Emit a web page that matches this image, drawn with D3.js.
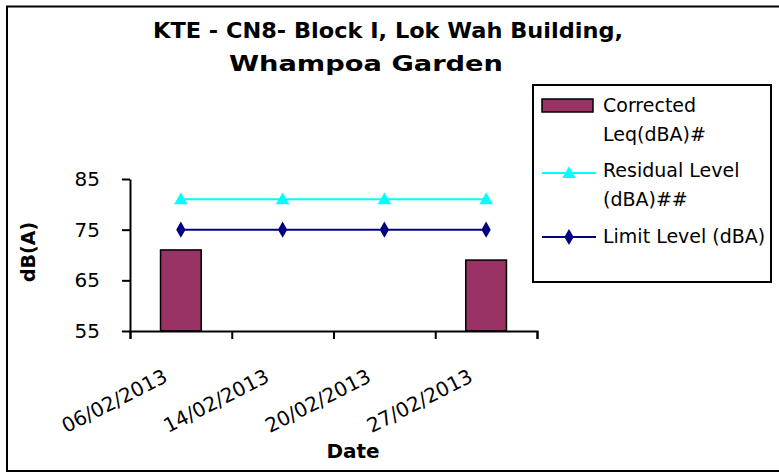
<!DOCTYPE html>
<meta charset="utf-8">
<style>
body { margin: 0; background: #fff; }
text { font-family: "DejaVu Sans", "Liberation Sans", Arial, sans-serif; fill: #000; }
</style>
<svg width="779" height="474"></svg>
<script src="https://d3js.org/d3.v7.min.js"></script>
<script>

// chart data
var dates = ["06/02/2013", "14/02/2013", "20/02/2013", "27/02/2013"];
var corrected = [71, null, null, 69];
var residual = [81, 81, 81, 81];
var limit = [75, 75, 75, 75];
var yTicks = [55, 65, 75, 85];
var titleLines = ["KTE - CN8- Block I, Lok Wah Building,", "Whampoa Garden"];
var legendItems = ["Corrected|Leq(dBA)#", "Residual Level|(dBA)##", "Limit Level (dBA)"];

var svg = d3.select("svg");

// outer frame (no right edge inside the window)
svg.append("rect")
    .attr("x", 7).attr("y", 6.5).attr("width", 790).attr("height", 464.5)
    .attr("fill", "none").attr("stroke", "#000").attr("stroke-width", 2);

var x = d3.scaleBand().domain(dates).range([130, 537]).padding(0);
var y = d3.scaleLinear().domain([55, 85]).range([331, 179]);
var barW = x.bandwidth() * 0.4;
var cx = function(d) { return x(d) + x.bandwidth() / 2; };

// title
svg.append("text").attr("x", 388).attr("y", 38).attr("text-anchor", "middle")
    .attr("textLength", 470).attr("lengthAdjust", "spacingAndGlyphs")
    .style("font-size", "20.5px").style("font-weight", "bold").text(titleLines[0]);
svg.append("text").attr("x", 366).attr("y", 71).attr("text-anchor", "middle")
    .attr("textLength", 274).attr("lengthAdjust", "spacingAndGlyphs")
    .style("font-size", "20.5px").style("font-weight", "bold").text(titleLines[1]);

// bars
svg.append("g").selectAll("rect")
    .data(dates.filter(function(d, i) { return corrected[i] != null; }))
  .enter().append("rect")
    .attr("x", function(d) { return cx(d) - barW / 2; })
    .attr("y", function(d) { return y(corrected[dates.indexOf(d)]); })
    .attr("width", barW)
    .attr("height", function(d) { return y(55) - y(corrected[dates.indexOf(d)]); })
    .attr("fill", "#993366").attr("stroke", "#000").attr("stroke-width", 1.5);

// y axis
var yAxis = svg.append("g").attr("transform", "translate(130,0)")
    .call(d3.axisLeft(y).tickValues(yTicks).tickSize(8).tickSizeOuter(0).tickPadding(22));
yAxis.select(".domain").attr("stroke-width", 2);
yAxis.selectAll(".tick line").attr("stroke-width", 2);
yAxis.selectAll("text").style("font-size", "20px").attr("font-family", null);

// x axis (ticks at category boundaries)
var xb = d3.scaleLinear().domain([0, dates.length]).range([130, 537]);
var xAxis = svg.append("g").attr("transform", "translate(0,331)")
    .call(d3.axisBottom(xb).ticks(dates.length).tickFormat("").tickSize(8).tickSizeOuter(8));
xAxis.select(".domain").attr("stroke-width", 2);
xAxis.selectAll(".tick line").attr("stroke-width", 2);

svg.append("g").selectAll("text")
    .data(dates)
  .enter().append("text")
    .attr("text-anchor", "end")
    .attr("transform", function(d) { return "translate(" + (cx(d) - 12) + ",381) rotate(-27)"; })
    .style("font-size", "20px")
    .text(function(d) { return d; });

// lines
var line = d3.line().x(function(d, i) { return cx(dates[i]); }).y(function(d) { return y(d); });
svg.append("path").datum(residual).attr("d", line)
    .attr("fill", "none").attr("stroke", "#00ffff").attr("stroke-width", 2);
svg.append("path").datum(limit).attr("d", line)
    .attr("fill", "none").attr("stroke", "#000080").attr("stroke-width", 2);

var tri = d3.symbol().type(d3.symbolTriangle).size(80);
var dia = d3.symbol().type(d3.symbolDiamond).size(75);

svg.append("g").selectAll("path")
    .data(residual)
  .enter().append("path")
    .attr("d", tri)
    .attr("transform", function(d, i) { return "translate(" + cx(dates[i]) + "," + (y(d) + 1) + ")"; })
    .attr("fill", "#00ffff");

svg.append("g").selectAll("path")
    .data(limit)
  .enter().append("path")
    .attr("d", dia)
    .attr("transform", function(d, i) { return "translate(" + cx(dates[i]) + "," + y(d) + ")"; })
    .attr("fill", "#000080");

// axis titles
svg.append("text").attr("transform", "translate(35,252) rotate(-90)")
    .attr("text-anchor", "middle").style("font-size", "19px").style("font-weight", "bold").text("dB(A)");
svg.append("text").attr("x", 353).attr("y", 458)
    .attr("text-anchor", "middle").style("font-size", "20px").style("font-weight", "bold").text("Date");

// legend
var lg = svg.append("g");
lg.append("rect").attr("x", 533).attr("y", 85).attr("width", 238).attr("height", 197)
    .attr("fill", "#fff").attr("stroke", "#000").attr("stroke-width", 2);

lg.append("rect").attr("x", 542).attr("y", 99).attr("width", 51).attr("height", 13)
    .attr("fill", "#993366").attr("stroke", "#000").attr("stroke-width", 1.5);
lg.append("line").attr("x1", 542).attr("x2", 596).attr("y1", 173).attr("y2", 173)
    .attr("stroke", "#00ffff").attr("stroke-width", 2);
lg.append("path").attr("d", tri).attr("transform", "translate(569,174)").attr("fill", "#00ffff");
lg.append("line").attr("x1", 542).attr("x2", 596).attr("y1", 237).attr("y2", 237)
    .attr("stroke", "#000080").attr("stroke-width", 2);
lg.append("path").attr("d", dia).attr("transform", "translate(569,237)").attr("fill", "#000080");

var legendY = [112, 177, 243];
legendItems.forEach(function(s, i) {
  var t = lg.append("text").attr("x", 603).attr("y", legendY[i]).style("font-size", "19px");
  s.split("|").forEach(function(part, j) {
    t.append("tspan").attr("x", 603).attr("dy", j ? 29 : 0).text(part);
  });
});

</script>
